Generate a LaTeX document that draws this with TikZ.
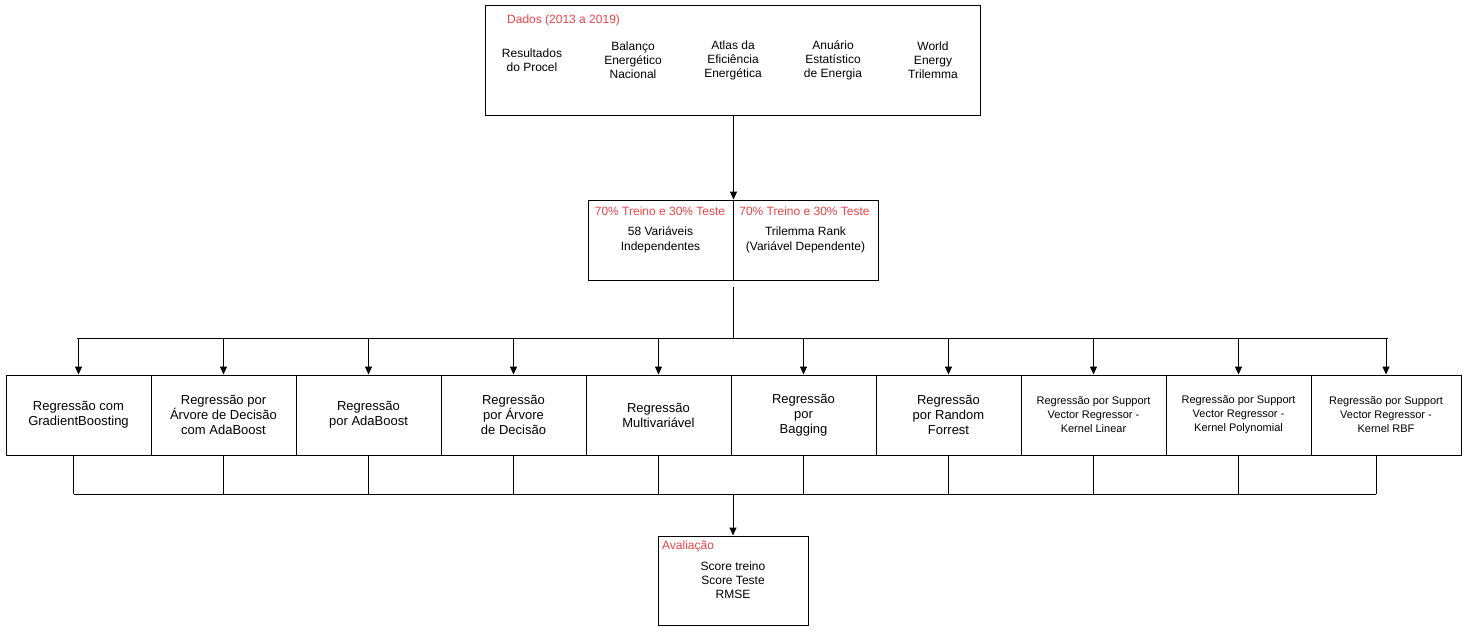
\documentclass[tikz,border=0pt]{standalone}
\usepackage{fontspec}
\setmainfont{Liberation Sans}
\usepackage{tikz}
\usetikzlibrary{shapes,arrows.meta,positioning}
\definecolor{titred}{RGB}{234,67,72}
\tikzstyle{box} = [rectangle, draw, line width=1pt, inner sep=0pt]
\tikzstyle{txt} = [align=center, inner sep=0pt, font=\fontsize{12}{14}\selectfont]
\tikzstyle{tit} = [txt, text=titred]
\tikzstyle{reg} = [box, minimum width=145pt, minimum height=80pt, align=center, font=\fontsize{13}{15}\selectfont]
\tikzstyle{svr} = [reg, font=\fontsize{11}{14}\selectfont]
\tikzstyle{line} = [draw, line width=1pt]
\tikzstyle{arr} = [line, -{Triangle[length=8pt,width=7pt]}]

\begin{document}
\begin{tikzpicture}[x=1pt, y=-1pt]
			\useasboundingbox (0,0) rectangle (1481,632);
			% dados
			\node [box, minimum width=495pt, minimum height=110pt] (dados) at (732.5, 60) {};
			\node [tit, anchor=west] (dadostit) at (507, 20) {Dados (2013 a 2019)};
			\node [txt] (procel) at (532, 60) {Resultados\\do Procel};
			\node [txt] (ben) at (633, 60) {Balanço\\Energético\\Nacional};
			\node [txt] (atlas) at (733, 60) {Atlas da\\Eficiência\\Energética};
			\node [txt] (anuario) at (833, 60) {Anuário\\Estatístico\\de Energia};
			\node [txt] (wet) at (933, 60) {World\\Energy\\Trilemma};
			
			% treino e teste
			\node [box, minimum width=145pt, minimum height=80pt] (indep) at (660.5, 240) {};
			\node [box, minimum width=145pt, minimum height=80pt] (dep) at (805.5, 240) {};
			\node [tit] (indeptit) at (660, 211) {70\% Treino e 30\% Teste};
			\node [tit] (deptit) at (804.5, 211) {70\% Treino e 30\% Teste};
			\node [txt, font=\fontsize{12}{15}\selectfont] (indeptxt) at (660.5, 240) {58 Variáveis\\Independentes};
			\node [txt, font=\fontsize{12}{15}\selectfont] (deptxt) at (805.5, 240) {Trilemma Rank\\(Variável Dependente)};
			
			% modelos
			\node [reg] (b1) at (78.5, 415) {Regressão com\\GradientBoosting};
			\node [reg] (b2) at (223.5, 415) {Regressão por\\Árvore de Decisão\\com AdaBoost};
			\node [reg] (b3) at (368.5, 415) {Regressão\\por AdaBoost};
			\node [reg] (b4) at (513.5, 415) {Regressão\\por Árvore\\de Decisão};
			\node [reg] (b5) at (658.5, 415) {Regressão\\Multivariável};
			\node [reg] (b6) at (803.5, 415) {Regressão\\por\\Bagging};
			\node [reg] (b7) at (948.5, 415) {Regressão\\por Random\\Forrest};
			\node [svr] (b8) at (1093.5, 415) {Regressão por Support\\Vector Regressor -\\Kernel Linear};
			\node [svr] (b9) at (1238.5, 415) {Regressão por Support\\Vector Regressor -\\Kernel Polynomial};
			\node [svr, minimum width=150pt] (b10) at (1386, 415) {Regressão por Support\\Vector Regressor -\\Kernel RBF};
			
			% avaliacao
			\node [box, minimum width=150pt, minimum height=89pt] (aval) at (733, 580.5) {};
			\node [tit, anchor=west] (avaltit) at (662, 546) {Avaliação};
			\node [txt] (avaltxt) at (733, 580) {Score treino\\Score Teste\\RMSE};
			
			\coordinate (gap) at (733, 287);
			\coordinate (busT) at (733, 338);
			\coordinate (busB) at (733, 494);
			
			\path [arr] (dados.south -| indep.north east) -- (indep.north east);
			\path [line] (gap) -- (busT);
			\path [line] ([xshift=-2pt]b1.north |- busT) -- ([xshift=2pt]b10.north |- busT);
			\foreach \i in {1,...,10}
				\path [arr] (b\i.north |- busT) -- (b\i.north);
			\foreach \i in {2,...,9}
				\path [line] (b\i.south) -- (b\i.south |- busB);
			\path [line] ([xshift=-5pt]b1.south) -- ([xshift=-5pt]b1.south |- busB);
			\path [line] ([xshift=-10pt]b10.south) -- ([xshift=-10pt]b10.south |- busB);
			\path [line] ([xshift=-5pt]b1.south |- busB) -- ([xshift=-10pt]b10.south |- busB);
			\path [arr] (aval.north |- busB) -- (aval.north);
		\end{tikzpicture}
\end{document}
